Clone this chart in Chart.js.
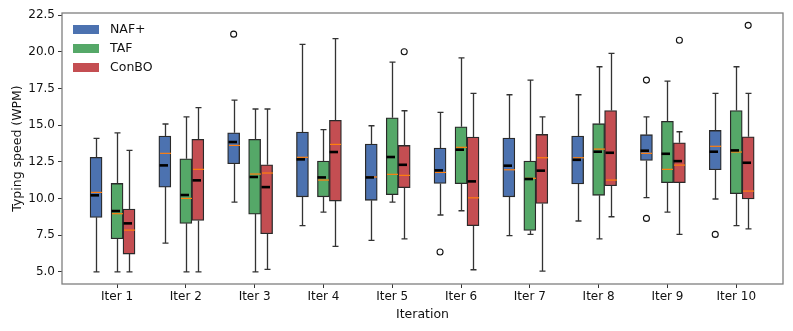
<!DOCTYPE html>
<html>
<head>
<meta charset="utf-8">
<script src="https://cdn.jsdelivr.net/npm/chart.js@4.4.1/dist/chart.umd.min.js"></script>
<style>
  html, body { margin: 0; padding: 0; background: #fff; }
  #wrap { width: 793px; height: 331px; }
</style>
</head>
<body>
<div id="wrap"><canvas id="myChart" width="793" height="331"></canvas></div>
<script>
// iteration labels
const iters = ['Iter 1', 'Iter 2', 'Iter 3', 'Iter 4', 'Iter 5', 'Iter 6', 'Iter 7', 'Iter 8', 'Iter 9', 'Iter 10'];
const yTicks = [5.0, 7.5, 10.0, 12.5, 15.0, 17.5, 20.0, 22.5];

// each row: [min, q1, median, q3, max, mean]
const nafStats = [
  [5.0, 8.72, 10.42, 12.81, 14.1, 10.22],
  [6.97, 10.78, 13.08, 14.26, 15.08, 12.26],
  [9.76, 12.37, 13.62, 14.48, 16.71, 13.85],
  [8.15, 10.12, 12.81, 14.53, 20.5, 12.67],
  [7.15, 9.88, 11.47, 13.71, 14.96, 11.44],
  [8.88, 11.03, 11.78, 13.44, 15.87, 11.92],
  [7.47, 10.12, 11.96, 14.12, 17.07, 12.24],
  [8.47, 10.99, 12.78, 14.26, 17.07, 12.64],
  [10.06, 12.6, 13.08, 14.35, 15.57, 13.26],
  [9.97, 11.96, 13.56, 14.64, 17.17, 13.19]
];
const tafStats = [
  [5.0, 7.26, 8.97, 11.03, 14.48, 9.15],
  [5.0, 8.31, 10.01, 12.71, 15.57, 10.24],
  [5.0, 8.94, 11.67, 14.03, 16.1, 11.47],
  [9.08, 10.12, 11.26, 12.55, 14.69, 11.44],
  [9.76, 10.26, 11.65, 15.5, 19.3, 12.83],
  [9.17, 11.01, 13.49, 14.89, 19.59, 13.33],
  [7.56, 7.83, 11.38, 12.55, 18.07, 11.33],
  [7.26, 10.22, 13.37, 15.1, 18.98, 13.19],
  [9.08, 11.08, 11.99, 15.26, 18.0, 13.05],
  [8.15, 10.33, 13.17, 16.0, 18.98, 13.28]
];
const conboStats = [
  [5.0, 6.22, 7.85, 9.28, 13.28, 8.31],
  [5.0, 8.51, 11.99, 14.03, 16.19, 11.24],
  [5.18, 7.6, 11.74, 12.3, 16.1, 10.78],
  [6.74, 9.83, 13.69, 15.33, 20.89, 13.17],
  [7.26, 10.74, 11.58, 13.62, 15.98, 12.3],
  [5.15, 8.15, 10.05, 14.19, 17.17, 11.17],
  [5.06, 9.67, 12.78, 14.37, 15.57, 11.9],
  [8.76, 10.87, 11.26, 16.0, 19.89, 13.12],
  [7.56, 11.08, 12.28, 13.8, 14.55, 12.55],
  [7.94, 9.97, 10.51, 14.21, 17.17, 12.44]
];

// outliers: [iteration, value]
const nafOutliers = [[3, 21.2], [6, 6.36], [9, 18.07], [9, 8.65], [10, 7.56]];
const tafOutliers = [];
const conboOutliers = [[5, 20.0], [9, 20.78], [10, 21.8]];

const series = [
  { label: 'NAF+', stats: nafStats, out: nafOutliers, off: -0.305, color: '#4c72b0' },
  { label: 'TAF', stats: tafStats, out: tafOutliers, off: 0, color: '#55a868' },
  { label: 'ConBO', stats: conboStats, out: conboOutliers, off: 0.174, color: '#c44e52' }
];

const BOX_W = 12;
const FONT = 'DejaVu Sans';

let boxSets = series.map(s => ({
  type: 'bar',
  label: s.label,
  data: s.stats.map((r, i) => ({ x: i + 1 + s.off, y: [r[1], r[3]] })),
  backgroundColor: s.color,
  borderColor: '#2a2a2a',
  borderWidth: 1.3,
  borderSkipped: false,
  barThickness: BOX_W,
  grouped: false,
  order: 2
}));

let outlierSets = series.map(s => ({
  type: 'scatter',
  label: s.label + ' outliers',
  data: s.out.map(o => ({ x: o[0] + s.off, y: o[1] })),
  pointStyle: 'circle',
  pointRadius: 3,
  pointBackgroundColor: '#fff',
  pointBorderColor: '#111',
  pointBorderWidth: 1.1,
  order: 0
}));

// whiskers, caps, medians, means, frame and legend
const boxExtras = {
  id: 'boxExtras',
  afterDatasetsDraw(chart) {
    const ctx = chart.ctx;
    const xs = chart.scales.x, ys = chart.scales.y;
    ctx.save();
    series.forEach(s => {
      s.stats.forEach((r, i) => {
        const cx = Math.round(xs.getPixelForValue(i + 1 + s.off)) + 0.5;
        const yMin = ys.getPixelForValue(r[0]);
        const yQ1 = ys.getPixelForValue(r[1]);
        const yMed = ys.getPixelForValue(r[2]);
        const yQ3 = ys.getPixelForValue(r[3]);
        const yMax = ys.getPixelForValue(r[4]);
        const yMean = ys.getPixelForValue(r[5]);
        ctx.strokeStyle = '#333';
        ctx.lineWidth = 1.3;
        ctx.beginPath();
        ctx.moveTo(cx, yQ3); ctx.lineTo(cx, yMax);
        ctx.moveTo(cx, yQ1); ctx.lineTo(cx, yMin);
        ctx.moveTo(cx - 3, yMax); ctx.lineTo(cx + 3, yMax);
        ctx.moveTo(cx - 3, yMin); ctx.lineTo(cx + 3, yMin);
        ctx.stroke();
        // median
        ctx.strokeStyle = '#ff7f0e';
        ctx.lineWidth = 1.2;
        ctx.beginPath();
        ctx.moveTo(cx - BOX_W / 2 + 0.5, yMed); ctx.lineTo(cx + BOX_W / 2 - 0.5, yMed);
        ctx.stroke();
        // mean
        ctx.strokeStyle = '#000';
        ctx.lineWidth = 2.6;
        ctx.beginPath();
        ctx.moveTo(cx - 6, yMean); ctx.lineTo(cx + 2.5, yMean);
        ctx.stroke();
      });
    });
    // frame
    const a = chart.chartArea;
    ctx.strokeStyle = '#7f7f7f';
    ctx.lineWidth = 1.3;
    ctx.strokeRect(a.left, a.top, a.right - a.left, a.bottom - a.top);
    // legend
    ctx.font = '12.5px "' + FONT + '"';
    ctx.textBaseline = 'middle';
    ctx.textAlign = 'left';
    series.forEach((s, i) => {
      const y = a.top + 16.5 + i * 19;
      ctx.fillStyle = s.color;
      ctx.fillRect(a.left + 11, y - 4.5, 26, 9);
      ctx.fillStyle = '#111';
      ctx.fillText(s.label, a.left + 48, y + 0.5);
    });
    ctx.restore();
  }
};

const tickFont = { family: FONT, size: 12 };

let myChart = new Chart(document.getElementById('myChart'), {
  type: 'bar',
  data: { datasets: [...boxSets, ...outlierSets] },
  options: {
    responsive: false,
    animation: false,
    layout: { padding: { left: 0, right: 10, top: 13, bottom: 0 } },
    plugins: {
      tooltip: { enabled: false },
      legend: { display: false }
    },
    scales: {
      x: {
        type: 'linear',
        offset: false,
        min: 0.2,
        max: 10.68,
        afterBuildTicks: s => { s.ticks = iters.map((t, i) => ({ value: i + 1 })); },
        afterFit: s => { s.height = 47; },
        ticks: {
          font: tickFont,
          color: '#111',
          padding: 2,
          maxRotation: 0,
          callback: v => iters[v - 1]
        },
        grid: { display: true, offset: false, drawOnChartArea: false, drawTicks: true, tickLength: 4, color: '#333', tickWidth: 1 },
        border: { display: false },
        title: { display: true, text: 'Iteration', font: { family: FONT, size: 12.5 }, color: '#111', padding: { top: 0, bottom: 9 } }
      },
      y: {
        type: 'linear',
        min: 4.18,
        max: 22.64,
        afterBuildTicks: s => { s.ticks = yTicks.map(v => ({ value: v })); },
        afterFit: s => { s.width = 62; },
        ticks: {
          font: tickFont,
          color: '#111',
          padding: 3,
          callback: v => v.toFixed(1)
        },
        grid: { display: true, drawOnChartArea: false, drawTicks: true, tickLength: 4, color: '#333', tickWidth: 1 },
        border: { display: false },
        title: { display: true, text: 'Typing speed (WPM)', font: { family: FONT, size: 12.5 }, color: '#111', padding: { top: 10, bottom: 0 } }
      }
    }
  },
  plugins: [boxExtras]
});
</script>
</body>
</html>
